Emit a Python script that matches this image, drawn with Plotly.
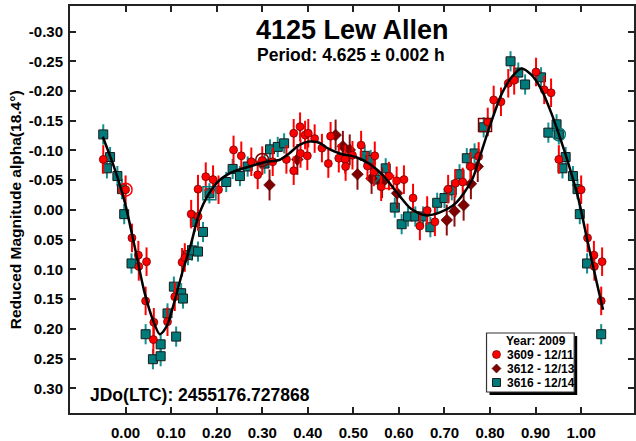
import plotly.graph_objects as go

# ---------------- data (phase in [0,1), reduced magnitude) ----------------
red_phase = [0.000, 0.014, 0.028, 0.029, 0.046, 0.044, 0.062, 0.061, 0.092, 0.108,
             0.124, 0.130, 0.144, 0.159, 0.159, 0.176, 0.192, 0.204, 0.237, 0.254,
             0.276, 0.290, 0.300, 0.323, 0.353, 0.369, 0.383, 0.369, 0.394, 0.401,
             0.384, 0.399, 0.415, 0.431, 0.445, 0.450, 0.468, 0.482, 0.483, 0.498,
             0.517, 0.531, 0.547, 0.545, 0.561, 0.578, 0.595, 0.611, 0.631, 0.646,
             0.662, 0.679, 0.708, 0.724, 0.740, 0.757, 0.775, 0.795, 0.808, 0.824,
             0.840, 0.853, 0.901, 0.919, 0.934, 0.951]
red_mag = [-0.034, 0.047, 0.076, 0.095, 0.087, 0.153, 0.189, 0.218, 0.188, 0.146,
           0.088, 0.080, 0.007, 0.011, -0.035, -0.056, -0.051, -0.034, -0.101, -0.091,
           -0.081, -0.059, -0.083, -0.081, -0.085, -0.129, -0.140, -0.066, -0.126, -0.129,
           -0.095, -0.091, -0.120, -0.104, -0.078, -0.124, -0.087, -0.085, -0.073, -0.092,
           -0.109, -0.074, -0.091, -0.064, -0.039, -0.057, -0.049, -0.051, -0.020, 0.027,
           0.001, 0.020, -0.035, -0.045, -0.047, -0.073, -0.090, -0.148, -0.185, -0.182,
           -0.213, -0.218, -0.232, -0.202, -0.197, -0.085]

dred_phase = [0.316, 0.377, 0.461, 0.477, 0.492, 0.509, 0.540, 0.563, 0.596,
              0.705, 0.722, 0.742, 0.758, 0.773]
dred_mag = [-0.042, -0.085, -0.126, -0.107, -0.101, -0.060, -0.053, -0.046, -0.028,
            0.017, 0.002, -0.008, -0.044, -0.073]

teal_phase = [0.013, 0.044, 0.060, 0.077, 0.077, 0.092, 0.106, 0.111, 0.122, 0.126,
              0.137, 0.146, 0.152, 0.159, 0.170, 0.184, 0.221, 0.235, 0.251, 0.268,
              0.305, 0.317, 0.334, 0.348, 0.525, 0.538, 0.555, 0.571, 0.591, 0.606,
              0.620, 0.636, 0.653, 0.669, 0.684, 0.700, 0.716, 0.733, 0.749, 0.766,
              0.786, 0.845, 0.862, 0.877, 0.912, 0.928, 0.946, 0.951, 0.959, 0.966,
              0.982, 0.992, 0.997]
teal_mag = [0.090, 0.209, 0.251, 0.226, 0.246, 0.174, 0.129, 0.213, 0.140, 0.149,
            0.076, 0.068, 0.020, 0.070, 0.037, -0.028, -0.047, -0.069, -0.057, -0.073,
            -0.078, -0.102, -0.106, -0.112, -0.091, -0.084, -0.051, -0.070, -0.004, 0.024,
            0.011, 0.011, 0.011, 0.029, -0.012, -0.020, -0.033, -0.060, -0.087, -0.095,
            -0.139, -0.250, -0.231, -0.211, -0.223, -0.130, -0.144, -0.127, -0.070, -0.089,
            -0.057, -0.035, 0.007]

red_err = 0.024
dred_err = 0.026
teal_err = 0.017

# first-point (session start) markers
start_phase = [0.000, 0.300, 0.184, 0.574, 0.789, 0.951]
start_mag = [-0.034, -0.084, -0.028, -0.047, -0.143, -0.127]
start_series = ["3609", "3612", "3616", "3609", "3612", "3616"]
start_symbol = ["circle-open", "circle-open", "square-open", "square-open", "square-open", "circle-open"]

# Fourier fit curve
fit_phase = [-0.050, -0.023, -0.002, 0.020, 0.042, 0.060, 0.075, 0.090, 0.108, 0.126,
             0.144, 0.160, 0.181, 0.206, 0.235, 0.272, 0.308, 0.337, 0.359, 0.381,
             0.403, 0.425, 0.443, 0.470, 0.505, 0.534, 0.564, 0.600, 0.625, 0.658,
             0.690, 0.724, 0.760, 0.782, 0.804, 0.826, 0.848, 0.869, 0.891, 0.913,
             0.935, 0.953, 0.972, 0.993, 1.015, 1.033, 1.048]
fit_mag = [-0.123, -0.067, -0.014, 0.062, 0.140, 0.185, 0.209, 0.196, 0.152, 0.101,
           0.056, 0.010, -0.025, -0.050, -0.064, -0.073, -0.081, -0.084, -0.095, -0.109,
           -0.115, -0.113, -0.104, -0.095, -0.089, -0.078, -0.059, -0.025, -0.003, 0.009,
           0.004, -0.011, -0.050, -0.100, -0.151, -0.196, -0.224, -0.238, -0.227, -0.202,
           -0.162, -0.123, -0.078, -0.022, 0.056, 0.118, 0.168]

x_ticks = [0.0, 0.1, 0.2, 0.3, 0.4, 0.5, 0.6, 0.7, 0.8, 0.9, 1.0]
x_ticktext = ["0.00", "0.10", "0.20", "0.30", "0.40", "0.50", "0.60", "0.70", "0.80", "0.90", "1.00"]
y_ticks = [-0.30, -0.25, -0.20, -0.15, -0.10, -0.05, 0.0, 0.05, 0.10, 0.15, 0.20, 0.25, 0.30]
y_ticktext = ["-0.30", "-0.25", "-0.20", "-0.15", "-0.10", "-0.05", "0.00",
              "0.05", "0.10", "0.15", "0.20", "0.25", "0.30"]

legend_title = "Year: 2009"
legend_labels = ["3609 - 12/11", "3612 - 12/13", "3616 - 12/14"]

WRAP_LO, WRAP_HI = -0.05, 1.05


def wrap(ph, mg):
    xs, ys = [], []
    for p, m in zip(ph, mg):
        for s in (-1, 0, 1):
            q = p + s
            if WRAP_LO <= q <= WRAP_HI:
                xs.append(q)
                ys.append(m)
    return xs, ys


FONT = "Liberation Sans, Arial, sans-serif"
RED, DRED, TEAL = "#FF0000", "#800000", "#007B7B"

fig = go.Figure()

tx, ty = wrap(teal_phase, teal_mag)
fig.add_trace(go.Scatter(
    x=tx, y=ty, mode="markers", name=legend_labels[2], showlegend=False,
    marker=dict(symbol="square", size=9, color=TEAL, line=dict(color="#1a1a1a", width=1)),
    error_y=dict(type="constant", value=teal_err, color="#158f8f", thickness=2, width=0)))

dx, dy = wrap(dred_phase, dred_mag)
fig.add_trace(go.Scatter(
    x=dx, y=dy, mode="markers", name=legend_labels[1], showlegend=False,
    marker=dict(symbol="diamond", size=9, color=DRED, line=dict(color="#400000", width=0.6)),
    error_y=dict(type="constant", value=dred_err, color="#8a1010", thickness=2, width=0)))

rx, ry = wrap(red_phase, red_mag)
fig.add_trace(go.Scatter(
    x=rx, y=ry, mode="markers", name=legend_labels[0], showlegend=False,
    marker=dict(symbol="circle", size=8, color=RED, line=dict(color="#600000", width=0.7)),
    error_y=dict(type="constant", value=red_err, color=RED, thickness=2, width=0)))

series_color = {"3609": RED, "3612": DRED, "3616": TEAL}
fig.add_trace(go.Scatter(
    x=start_phase, y=start_mag, mode="markers", showlegend=False, hoverinfo="skip",
    marker=dict(symbol=start_symbol, size=13, color=[series_color[s] for s in start_series],
                line=dict(width=1.5, color=[series_color[s] for s in start_series]))))

fig.add_trace(go.Scatter(
    x=fit_phase, y=fit_mag, mode="lines", showlegend=False, hoverinfo="skip",
    line=dict(color="black", width=2.5, shape="spline", smoothing=0.8)))

W, H = 636, 441
L, R, T, B = 70, 0, 6, 28
pw, ph_ = W - L - R, H - T - B


def px(xp):
    return (xp - L) / pw


def py(yp):
    return (H - B - yp) / ph_


axis_common = dict(showgrid=False, zeroline=False, showline=True, linecolor="#222222", linewidth=2,
                   mirror="ticks", ticks="inside", ticklen=6, tickwidth=1.5, tickcolor="#222222",
                   tickfont=dict(family=FONT, size=15, color="black", weight="bold"))

fig.update_xaxes(range=[-0.122, 1.116], tickmode="array", tickvals=x_ticks, ticktext=x_ticktext,
                 ticklabelstandoff=5, **axis_common)
fig.update_yaxes(range=[0.3415, -0.343], tickmode="array", tickvals=y_ticks, ticktext=y_ticktext,
                 ticklabelstandoff=2, **axis_common)


def note(text, x, y, size, xanchor="center", angle=0, color="black"):
    fig.add_annotation(text=text, x=x, y=y, xref="paper", yref="paper", xanchor=xanchor,
                       yanchor="middle", textangle=angle, showarrow=False,
                       font=dict(family=FONT, size=size, color=color))


note("<b>4125 Lew Allen</b>", px(353.5), py(30.5), 27)
note("<b>Period: 4.625 ± 0.002 h</b>", px(351.6), py(54.5), 17.5)
note("<b>JDo(LTC): 2455176.727868</b>", px(88), py(395), 17.5, xanchor="left")
note("<b>Reduced Magnitude alpha(18.4°)</b>", px(16), py(210), 15.5, angle=-90)

# ---- legend box (drawn by hand to match the original compact legend) ----
bx0, bx1, by0, by1 = 488, 576, 333, 392
fig.add_shape(type="rect", xref="paper", yref="paper", x0=px(bx0 + 3), x1=px(bx1 + 3),
              y0=py(by1 + 3), y1=py(by0 + 3), fillcolor="black", line=dict(width=0), layer="above")
fig.add_shape(type="rect", xref="paper", yref="paper", x0=px(bx0), x1=px(bx1), y0=py(by1), y1=py(by0),
              fillcolor="white", line=dict(color="#333333", width=1.2), layer="above")
note("<b>%s</b>" % legend_title, px(538), py(341), 12)
rows = [354.5, 368.5, 382.5]
mx = 498
# circle
fig.add_shape(type="circle", xref="paper", yref="paper", x0=px(mx - 4), x1=px(mx + 4),
              y0=py(rows[0] + 4), y1=py(rows[0] - 4), fillcolor=RED,
              line=dict(color="#600000", width=0.7), layer="above")
# diamond
fig.add_shape(type="path", xref="paper", yref="paper",
              path="M %f,%f L %f,%f L %f,%f L %f,%f Z" % (
                  px(mx), py(rows[1] - 4.5), px(mx + 4.5), py(rows[1]),
                  px(mx), py(rows[1] + 4.5), px(mx - 4.5), py(rows[1])),
              fillcolor=DRED, line=dict(color="#400000", width=0.6), layer="above")
# square
fig.add_shape(type="rect", xref="paper", yref="paper", x0=px(mx - 4), x1=px(mx + 4),
              y0=py(rows[2] + 4), y1=py(rows[2] - 4), fillcolor=TEAL,
              line=dict(color="#1a1a1a", width=1), layer="above")
for lab, ry_ in zip(legend_labels, rows):
    note("<b>%s</b>" % lab, px(507), py(ry_), 12, xanchor="left")

fig.update_layout(
    width=W, height=H, margin=dict(l=L, r=R, t=T, b=B),
    paper_bgcolor="white", plot_bgcolor="white", showlegend=False,
)

fig.write_html("out.html", config={"displayModeBar": False},
               post_script="document.body.style.margin='0px';")
